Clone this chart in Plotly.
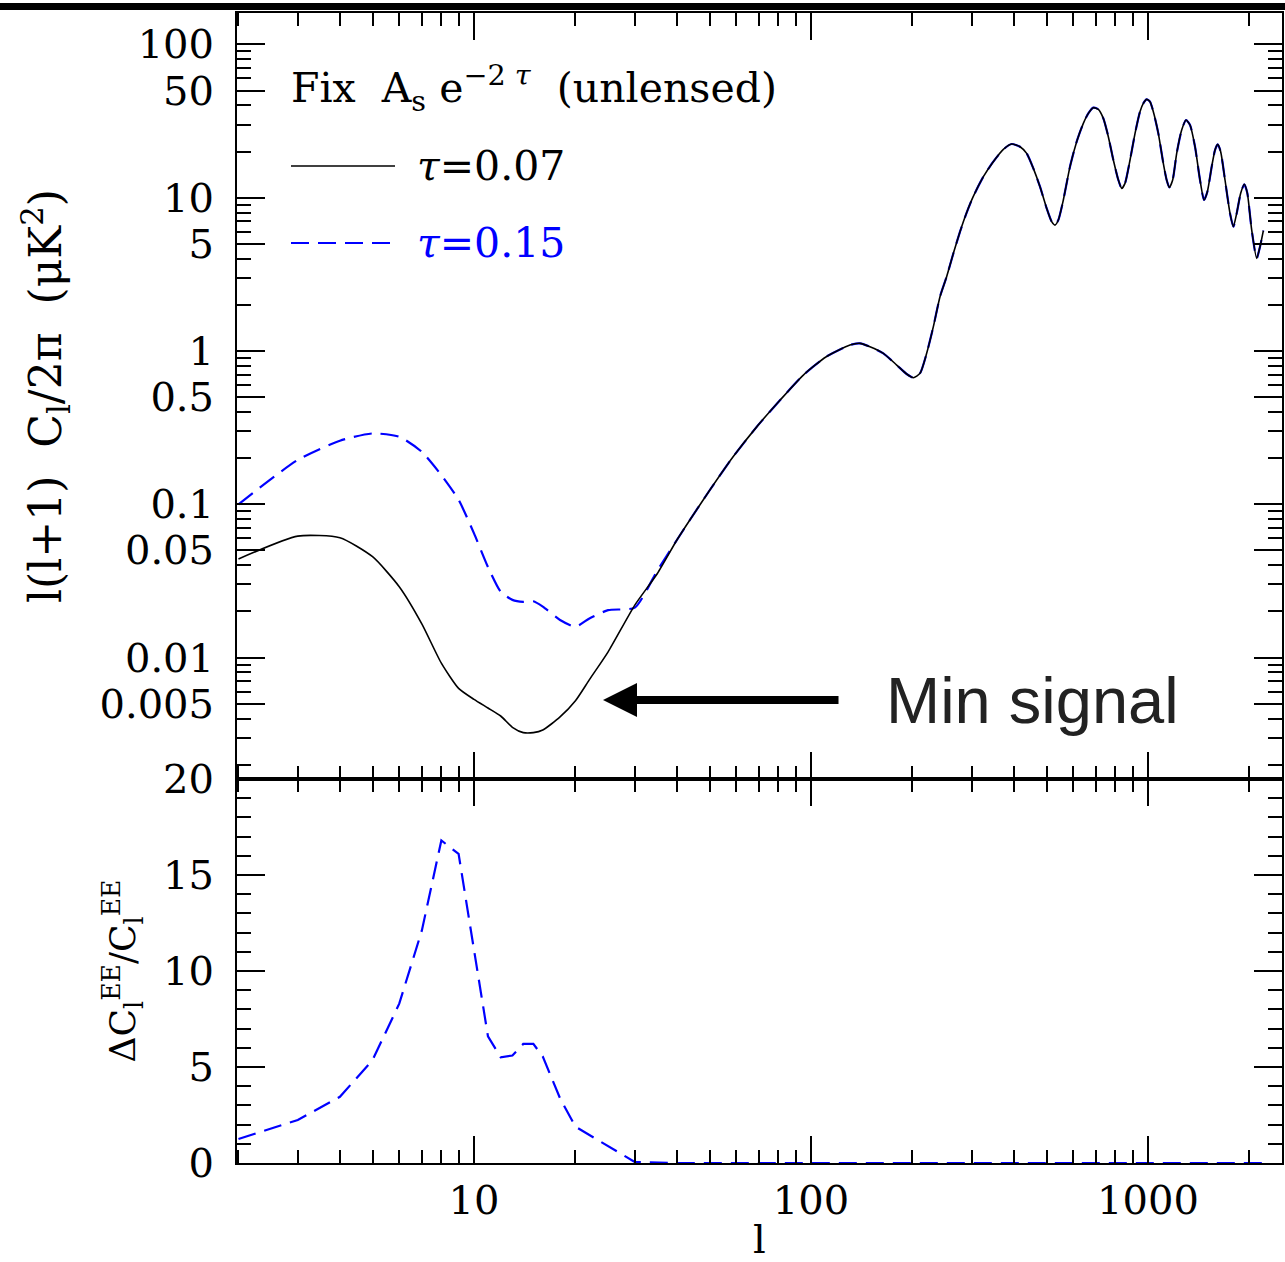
import plotly.graph_objects as go
from plotly.subplots import make_subplots

# ---------------- data ----------------
# low multipoles (integer l)
l_low = [2, 3, 4, 5, 6, 7, 8, 9, 10, 11, 12, 13, 14, 15, 16, 18, 20, 22, 25, 30, 35]
ee_tau007_low = [0.044, 0.062, 0.0605, 0.0455, 0.029, 0.0166, 0.0092, 0.0063, 0.00534, 0.00469,
                 0.00416, 0.00351, 0.00324, 0.00324, 0.00337, 0.0041, 0.00523, 0.00718, 0.0109,
                 0.022, 0.0354]
ee_tau015_low = [0.1, 0.195, 0.26, 0.29, 0.276, 0.22, 0.155, 0.107, 0.0646, 0.039,
                 0.0269, 0.0238, 0.0231, 0.0233, 0.0215, 0.0176, 0.0159, 0.018, 0.0204,
                 0.0212, 0.037]

# higher multipoles: both models coincide
l_high = [40, 43.7, 50.1, 58.8, 69, 81, 94.9, 111,
          130.5, 139.8, 149.6, 163.9, 179.6, 192.2, 201.2, 210.6, 220.4, 230.7,
          241.4, 252.6, 264.5, 276.8, 289.7, 303.1, 324.7, 347.5, 372.2, 393.9,
          417.1, 436.4, 456.8, 478.1, 500.4, 517.8, 529.7, 541.9, 560.7, 586.8,
          614.2, 642.8, 665.1, 688.3, 712.2, 736.9, 762.6, 789.1, 816.6, 835.4,
          854.6, 884.4, 915.2, 946.6, 968.5, 990.8, 1013.7, 1037.1, 1073.0, 1110.3,
          1135.9, 1156.8, 1183.5, 1216.4, 1258.7, 1296.6, 1332.5, 1378.8, 1426.6, 1466.2,
          1500.0, 1545.2, 1580.7, 1609.7, 1643.0, 1692.5, 1751.3, 1791.7, 1833.0, 1883.6,
          1931.3, 1971.4, 2030.8, 2101.2, 2149.6, 2199.2]
ee_high = [0.0585, 0.079, 0.124, 0.205, 0.32, 0.479, 0.697, 0.918,
           1.094, 1.122, 1.067, 0.966, 0.810, 0.708, 0.670, 0.715, 0.966, 1.441,
           2.262, 3.054, 4.337, 6.004, 8.0, 10.2, 13.72, 17.19, 20.68, 22.40,
           21.52, 19.47, 15.54, 11.80, 8.52, 6.98, 6.63, 7.15, 9.66, 15.94,
           23.20, 30.56, 35.51, 38.67, 37.72, 32.95, 25.01, 17.62, 13.05, 11.51,
           12.41, 17.62, 26.3, 36.41, 41.27, 43.82, 42.31, 36.41, 26.3, 16.76,
           13.05, 11.68, 13.05, 19.47, 27.64, 32.13, 29.81, 21.52, 13.05, 9.66,
           10.95, 15.94, 20.47, 22.29, 19.97, 13.05, 7.91, 6.47, 7.91, 10.68,
           12.23, 10.68, 6.16, 4.02, 4.79, 6.10]

# fractional difference panel
l_ratio = [2, 3, 4, 5, 6, 7, 8, 9, 10, 11, 12, 13, 14, 15, 16, 18, 20, 22, 25, 28, 30, 40, 100, 1000, 2200]
ratio = [1.25, 2.24, 3.45, 5.36, 8.3, 12.1, 16.8, 16.1, 11.1, 6.6, 5.5, 5.6, 6.2, 6.2, 5.54,
         3.37, 1.89, 1.46, 0.85, 0.33, 0.05, 0, 0, 0, 0]

# ticks
x_major = [10, 100, 1000]
x_labels = ["10", "100", "1000"]
x_minor = [2, 3, 4, 5, 6, 7, 8, 9, 20, 30, 40, 50, 60, 70, 80, 90,
           200, 300, 400, 500, 600, 700, 800, 900, 2000]
y_major = [0.005, 0.01, 0.05, 0.1, 0.5, 1, 5, 10, 50, 100]
y_labels = ["0.005", "0.01", "0.05", "0.1", "0.5", "1", "5", "10", "50", "100"]
y_minor = [m * 10.0 ** e for e in range(-3, 3) for m in (2, 3, 4, 6, 7, 8, 9)]
y2_major = [0, 5, 10, 15, 20]
y2_labels = ["0", "5", "10", "15", "20"]

# ---------------- figure ----------------
SERIF = "DejaVu Serif, Liberation Serif, serif"
NB = "\u00a0"
W, H = 1285, 1262
ML, MR, MT, MB = 237, 3, 13, 99
PW, PH = W - ML - MR, H - MT - MB

fig = make_subplots(rows=2, cols=1, shared_xaxes=True, vertical_spacing=0,
                    row_heights=[0.6661, 0.3339])

fig.add_trace(go.Scatter(x=l_low + l_high, y=ee_tau015_low + ee_high, mode="lines",
                         line=dict(color="#0000ff", width=2.2, dash="18px,9px",
                                   shape="spline", smoothing=0.6),
                         name="τ=0.15", showlegend=False), row=1, col=1)
fig.add_trace(go.Scatter(x=l_low + l_high, y=ee_tau007_low + ee_high, mode="lines",
                         line=dict(color="black", width=1.6, shape="spline", smoothing=0.6),
                         name="τ=0.07", showlegend=False), row=1, col=1)
fig.add_trace(go.Scatter(x=l_ratio, y=ratio, mode="lines",
                         line=dict(color="#0000ff", width=2.2, dash="18px,9px"),
                         showlegend=False), row=2, col=1)

axis_common = dict(showline=True, linewidth=2, linecolor="black", mirror="allticks",
                   ticks="inside", tickwidth=1.5, tickcolor="black",
                   showgrid=False, zeroline=False, automargin=False,
                   tickfont=dict(family=SERIF, size=40, color="black"))

fig.update_xaxes(type="log", range=[0.2967, 3.3976], tickmode="array", tickvals=x_major,
                 ticktext=x_labels, ticklen=27,
                 minor=dict(ticks="inside", ticklen=13, tickwidth=1.5, tickcolor="black",
                            tickmode="array", tickvals=x_minor),
                 **axis_common)
fig.update_xaxes(showticklabels=False, row=1, col=1)
fig.update_xaxes(showticklabels=True, ticklabelstandoff=1,
                 title=dict(text="l", font=dict(family=SERIF, size=40, color="black"), standoff=20),
                 row=2, col=1)

ytitle = "l(l+1)" + NB * 2 + "C<sub>l</sub>/2π" + NB * 2 + "(μK<sup>2</sup>)"
fig.update_yaxes(type="log", range=[-2.792, 2.205], tickmode="array", tickvals=y_major,
                 ticktext=y_labels, ticklen=28, ticklabelstandoff=13,
                 minor=dict(ticks="inside", ticklen=14, tickwidth=1.5, tickcolor="black",
                            tickmode="array", tickvals=y_minor),
                 title=dict(text=ytitle,
                            font=dict(family=SERIF, size=44, color="black"), standoff=24),
                 row=1, col=1, **axis_common)
fig.update_yaxes(range=[0, 20], tickmode="array", tickvals=y2_major, ticktext=y2_labels,
                 ticklen=28, ticklabelstandoff=13,
                 minor=dict(ticks="inside", ticklen=14, tickwidth=1.5, tickcolor="black",
                            dtick=1),
                 title=dict(text="ΔC<sub>l</sub><sup>EE</sup>/C<sub>l</sub><sup>EE</sup>",
                            font=dict(family=SERIF, size=36, color="black"), standoff=16),
                 row=2, col=1, **axis_common)


def px(x):
    return (x - ML) / PW


def py(y):
    return (H - MB - y) / PH


annotations = [
    dict(text="Fix" + NB * 2 + "A<sub>s</sub>" + NB + "e<sup>−2 <i>τ</i></sup>" + NB * 2 + "(unlensed)",
         xref="paper", yref="paper",
         x=px(289), y=py(88), xanchor="left", yanchor="middle", showarrow=False,
         font=dict(family=SERIF, size=41, color="black")),
    dict(text="<i>τ</i>=0.07", xref="paper", yref="paper", x=px(415), y=py(166),
         xanchor="left", yanchor="middle", showarrow=False,
         font=dict(family=SERIF, size=41, color="black")),
    dict(text="<i>τ</i>=0.15", xref="paper", yref="paper", x=px(415), y=py(243),
         xanchor="left", yanchor="middle", showarrow=False,
         font=dict(family=SERIF, size=41, color="#0000ff")),
    dict(text="Min signal", xref="paper", yref="paper", x=px(884), y=py(700),
         xanchor="left", yanchor="middle", showarrow=False,
         font=dict(family="Liberation Sans, Arial, sans-serif", size=65,
                   color="#222222")),
    # arrow: head at l~24, value ~0.0053 (log coordinates for log axes)
    dict(text="", xref="x", yref="y", x=1.3828, y=-2.2766, axref="pixel", ayref="pixel",
         ax=237, ay=0, showarrow=True, arrowhead=2, arrowsize=0.85, arrowwidth=8,
         arrowcolor="black"),
]

shapes = [
    dict(type="line", xref="paper", yref="paper", x0=px(291), x1=px(395), y0=py(166), y1=py(166),
         line=dict(color="black", width=1.6)),
    dict(type="line", xref="paper", yref="paper", x0=px(291), x1=px(395), y0=py(243), y1=py(243),
         line=dict(color="#0000ff", width=2.2, dash="18px,9px")),
    dict(type="rect", xref="paper", yref="paper", x0=px(0), x1=px(W), y0=py(10), y1=py(3),
         line=dict(width=0), fillcolor="black", layer="above"),
]

fig.update_layout(width=W, height=H, margin=dict(l=ML, r=MR, t=MT, b=MB, autoexpand=False),
                  plot_bgcolor="white", paper_bgcolor="white",
                  annotations=annotations, shapes=shapes, showlegend=False)

fig.write_html("out.html", config={"displayModeBar": False},
               post_script="document.body.style.margin='0';document.body.style.overflow='hidden';")
